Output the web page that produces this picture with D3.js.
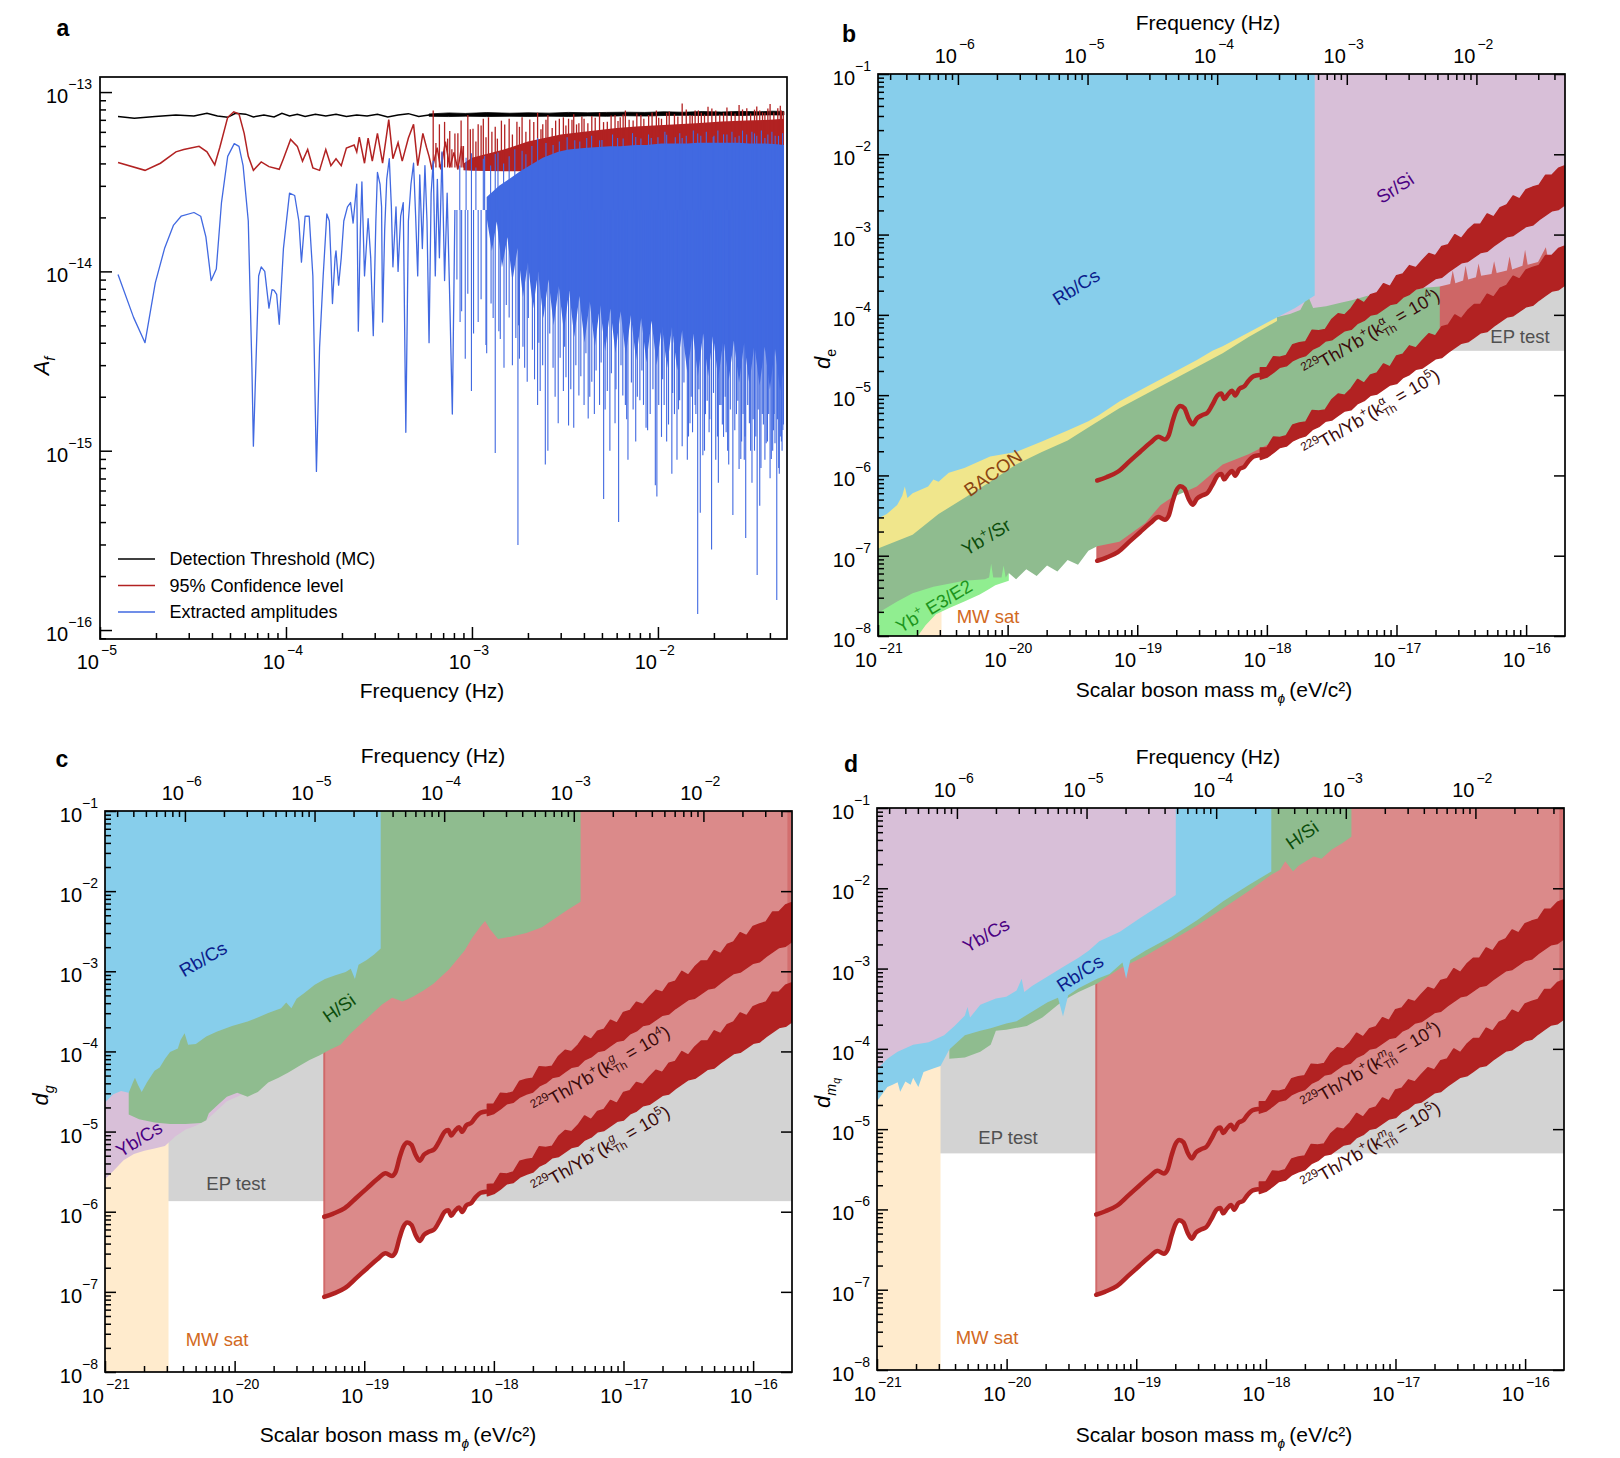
<!DOCTYPE html>
<html><head><meta charset="utf-8">
<script src="https://cdn.jsdelivr.net/npm/d3@7/dist/d3.min.js"></script>
<style>html,body{margin:0;padding:0;background:#fff}svg text{font-family:"Liberation Sans",Arial,Helvetica,sans-serif}</style>
</head><body>
<svg id="fig" width="1620" height="1458" xmlns="http://www.w3.org/2000/svg"></svg>
<script>
// ======================= DATA =======================
const MHZ = 1e-3;          // panel a frequencies are given in mHz
const AMP = 1e-14;         // panel a amplitudes are given in units of 1e-14
const EV_TO_HZ = 1 / 4.135667e-15;

// ---- panel a : detection threshold (MC) ----
const thrF = [0.0125,0.0153,0.0198,0.0256,0.0320,0.0376,0.0428,0.0486,0.0535,0.0607,0.0668,0.0761,0.0863,0.0951,0.1045,0.1151,0.1267,0.1439,0.1637,0.1858,0.2113,0.2402,0.2729,0.3103,0.3526,0.4006,0.4552,0.5174,0.5880];
const thrA = [7.31,7.14,7.31,7.45,7.36,7.62,7.36,7.23,7.62,7.53,7.27,7.45,7.27,7.62,7.36,7.53,7.31,7.53,7.36,7.53,7.31,7.45,7.36,7.53,7.27,7.45,7.58,7.31,7.45];
const thrBandF  = [0.588,0.75,0.92,1.2,1.6,2.0,2.6,3.3,4.2,5.3,6.7,8.5,10.8,13.6,17.3,21.9,27.7,35.2,41.0,47.6];
const thrBandHi = [7.55,7.65,7.60,7.68,7.62,7.66,7.63,7.70,7.66,7.70,7.72,7.70,7.76,7.72,7.78,7.74,7.80,7.76,7.82,7.80];
const thrBandLo = [7.33,7.30,7.34,7.30,7.33,7.31,7.34,7.31,7.36,7.33,7.38,7.35,7.40,7.42,7.40,7.43,7.40,7.44,7.46,7.44];

// ---- panel a : 95% confidence level ----
const cfF = [0.0125,0.01746,0.02113,0.0256,0.0282,0.0341,0.0376,0.0414,0.0441,0.0486,0.0524,0.0559,0.0596,0.0627,0.0668,0.0736,0.0810,0.0920,0.0969,0.1059,0.1151,0.1227,0.1308,0.1395,0.1516,0.1637,0.1744,0.1858,0.1982,0.2113,0.2326,0.2402,0.2479,0.2644,0.2765,0.2911,0.3103,0.3307,0.3570,0.3758,0.4006,0.4217,0.4552,0.4853,0.5109,0.5446,0.5694,0.5880,0.61,0.65,0.68,0.72,0.76,0.80,0.84,0.88,0.90];
const cfA = [4.05,3.66,4.01,4.64,4.78,4.98,4.64,3.93,4.92,7.23,7.76,7.53,5.88,4.38,3.66,4.08,3.84,3.71,4.25,5.44,4.98,4.12,4.78,3.78,3.66,4.78,3.89,4.25,3.89,4.87,5.07,4.64,5.61,4.01,5.54,4.12,5.88,4.01,7.02,4.25,5.22,4.12,5.54,6.61,3.89,5.88,4.92,4.38,3.7,4.9,3.7,5.3,3.8,4.6,3.7,5.0,3.8];
const cfBandF  = [0.9,1.0,1.5,2.0,3.0,4.0,6.0,8.0,12.0,16.0,22.0,30.0,40.0,47.6];
const cfBandHi = [4.0,4.3,4.8,5.3,5.8,6.0,6.3,6.45,6.6,6.7,6.85,6.93,7.0,7.1];
const cfBandLo = [3.66,3.64,3.62,3.62,3.60,3.60,3.58,3.58,3.60,3.62,3.62,3.64,3.66,3.66];
const cfSpikeF = [0.6189,0.6683,0.7125,0.7596,0.8098,0.8743,0.9501,1.013,1.080,1.151,1.227,1.334,1.440,1.585,1.745,1.860,2.046,2.254,2.403,2.560,2.818,3.102,3.307,3.526,3.758,4.007,4.410,4.853,5.343,5.880,6.269,6.683,7.356,8.098,8.913,9.807,10.45,11.14,12.27,13.50,14.87,15.85,17.11,18.59,20.46,22.53,24.80,27.31,30.05,33.06,35.27,37.60,40.09,44.10,46.12];
const cfSpikeA = [7.89,6.61,6.82,6.06,5.88,6.93,7.45,6.24,6.61,7.10,7.23,6.40,6.93,7.10,6.82,7.23,7.02,7.67,6.61,7.45,6.93,7.23,7.10,7.53,6.69,7.10,7.36,7.67,6.82,7.45,7.23,7.89,6.93,7.45,7.45,7.89,7.10,7.67,7.53,8.63,7.45,7.89,7.67,8.28,7.89,7.67,7.80,8.47,8.13,7.98,7.89,7.67,8.58,8.13,7.89];
const cfSpike2F = [0.64,0.69,0.74,0.78,0.84,0.90,0.98,1.05,1.12,1.19,1.28,1.37,1.50,1.65,1.80,1.95,2.15,2.35,2.50,2.70,2.95,3.20,3.45,3.65,3.90,4.20,4.60,5.10,5.60,6.10,6.50,7.00,7.70,8.40,9.30,10.1,11.5,12.8,14.2,15.3,16.5,17.8,19.5,21.5,23.5,26.0,28.5,31.5,34.0,36.5,39.0,42.0,45.5,47.2];
const cfSpike2A = [5.2,4.6,5.5,4.8,5.9,5.0,6.2,5.3,6.5,5.6,6.0,5.5,6.6,5.8,6.4,6.0,6.8,6.2,7.0,6.3,7.1,6.5,7.0,6.6,7.3,6.7,7.2,6.8,7.4,6.9,7.5,7.0,7.6,7.1,7.7,7.2,7.8,7.3,8.0,7.4,7.9,7.5,8.1,7.5,8.2,7.6,8.0,7.6,8.3,7.7,8.1,7.7,8.4,7.8];

// ---- panel a : extracted amplitudes ----
const exF = [0.0125,0.01515,0.01746,0.01983,0.02223,0.0248,0.0273,0.0320,0.0348,0.0371,0.0396,0.0422,0.0450,0.0486,0.0527,0.0559,0.0588,0.0627,0.0656,0.0668,0.0713,0.0736,0.0769,0.0810,0.0841,0.0863,0.0891,0.0920,0.0969,0.1045,0.1114,0.1173,0.1211,0.1267,0.1333,0.1395,0.1458,0.1516,0.1585,0.1658,0.1711,0.1744,0.1778,0.1836,0.1858,0.1919,0.1982,0.2046,0.2141,0.2225,0.2296,0.2402,0.2449,0.2512,0.2560,0.2644,0.2765,0.2855,0.2947,0.3043,0.3103,0.3204,0.3266,0.3307,0.3394,0.3481,0.3594,0.3687,0.3758,0.3905,0.4006,0.4137,0.4271,0.4410,0.4552,0.4701,0.4853,0.4980,0.5109,0.5240,0.5411,0.5587,0.5731,0.5880,0.6033,0.6189,0.6351,0.6515,0.6683,0.6902,0.7125,0.7356,0.7596,0.7843,0.8098];
const exA = [0.960,0.554,0.4005,0.863,1.34,1.805,2.03,2.13,2.03,1.557,0.889,1.03,2.42,4.38,5.16,4.98,3.89,1.91,0.290,0.106,0.943,1.06,1.0,0.624,0.790,0.784,0.744,0.507,1.34,2.73,2.65,1.91,1.125,2.03,2.03,0.943,0.0767,0.378,0.943,2.09,1.91,1.19,0.662,1.19,1.30,0.838,1.19,1.91,2.29,2.42,1.86,3.07,0.464,1.70,3.16,0.943,1.97,1.19,0.438,1.91,3.56,3.07,2.29,0.522,1.70,3.26,4.25,2.29,1.06,2.29,1.0,2.03,2.42,0.1267,1.91,3.07,4.01,2.03,0.943,3.45,1.34,3.89,1.91,0.4005,2.73,4.12,0.943,3.26,1.19,4.64,0.889,2.73,0.702,0.160,2.20];
const exBandF  = [1.20,1.40,1.60,1.80,2.046,2.403,2.909,3.307,4.007,4.552,5.516,6.269,7.596,8.633,10.45,11.88,14.39,16.36,19.43,22.53,27.31,31.03,37.60,42.17,47.64];
const exBandHi = [2.6,3.0,3.3,3.6,3.9,4.3,4.64,4.78,4.87,4.92,4.98,4.98,5.07,5.07,5.16,5.16,5.16,5.22,5.22,5.22,5.22,5.16,5.16,5.13,5.07];
const exBandLoF = [1.20,1.28,1.36,1.45,1.55,1.65,1.76,1.88,2.00,2.13,2.27,2.42,2.58,2.75,2.93,3.12,3.33,3.55,3.78,4.03,4.30,4.58,4.88,5.20,5.55,5.91,6.30,6.72,7.16,7.63,8.13,8.67,9.24,9.85,10.5,11.2,11.9,12.7,13.5,14.4,15.4,16.4,17.5,18.6,19.8,21.1,22.5,24.0,25.6,27.3,29.1,31.0,33.0,35.2,37.5,40.0,42.6,45.4,47.64];
const exBandLoA = [2.0,1.30,1.9,1.05,1.55,0.88,1.35,0.72,1.12,0.62,1.0,0.55,0.90,0.50,0.83,0.46,0.78,0.43,0.73,0.40,0.68,0.38,0.65,0.36,0.62,0.35,0.60,0.34,0.57,0.32,0.55,0.31,0.53,0.30,0.50,0.29,0.49,0.28,0.47,0.27,0.46,0.26,0.45,0.26,0.44,0.25,0.42,0.245,0.41,0.24,0.40,0.235,0.39,0.23,0.38,0.22,0.37,0.215,0.30];
const exDownF = [0.8633,0.9204,0.9936,1.080,1.189,1.267,1.334,1.395,1.487,1.585,1.722,1.767,1.801,1.920,1.982,2.113,2.254,2.327,2.480,2.560,2.730,2.909,3.102,3.203,3.307,3.526,3.758,4.007,4.217,4.410,4.552,4.853,5.106,5.343,5.516,5.880,6.146,6.473,6.683,6.900,7.356,7.596,7.996,8.362,8.633,9.085,9.682,9.87,10.45,10.80,11.14,11.88,12.27,12.66,13.08,13.50,14.39,14.87,15.35,15.85,16.36,16.89,17.44,18.01,18.84,19.43,20.46,21.13,21.83,22.53,23.27,24.02,25.29,26.44,27.31,28.18,29.12,29.65,31.03,32.04,33.06,34.16,35.27,36.40,37.60,38.81,40.09,41.40,42.17,43.55,44.94,46.12,46.99];
const exDownA = [0.522,0.326,0.215,0.522,0.389,0.662,0.0971,0.464,0.290,0.554,0.425,0.0298,0.326,0.290,0.2425,0.366,0.180,0.215,0.0838,0.100,0.290,0.1425,0.215,0.257,0.1384,0.1343,0.203,0.180,0.1512,0.2425,0.160,0.180,0.0538,0.215,0.100,0.1425,0.0401,0.203,0.180,0.0889,0.170,0.1125,0.191,0.180,0.1343,0.160,0.0642,0.0555,0.1194,0.180,0.1125,0.0745,0.160,0.0889,0.191,0.106,0.0889,0.1425,0.1267,0.180,0.0123,0.0451,0.0943,0.160,0.1267,0.0281,0.0889,0.0662,0.180,0.1194,0.1267,0.0838,0.0438,0.160,0.079,0.1125,0.0889,0.0326,0.1425,0.0662,0.100,0.0203,0.0493,0.160,0.0889,0.1125,0.0702,0.100,0.160,0.0147,0.0745,0.1125,0.1304];
const exDown2F = [0.83,0.88,0.95,1.02,1.12,1.20,1.30,1.42,1.53,1.65,1.78,1.88,2.01,2.17,2.29,2.40,2.62,2.80,2.98,3.15,3.40,3.62,3.85,4.10,4.30,4.65,4.95,5.20,5.62,5.95,6.33,6.79,7.20,7.75,8.20,8.80,9.40,10.1,10.6,11.4,12.0,12.9,13.8,14.6,15.1,16.0,16.6,17.8,18.4,19.0,19.9,20.9,21.5,22.2,23.0,23.7,24.5,25.9,26.9,27.9,28.7,29.4,30.4,31.5,32.5,33.6,34.6,35.8,36.9,38.2,39.4,40.7,41.8,42.6,43.9,44.6,45.5,46.5,47.3];
const exDown2A = [0.9,0.6,0.75,0.45,0.7,0.35,0.55,0.42,0.65,0.3,0.5,0.38,0.55,0.25,0.4,0.3,0.45,0.2,0.33,0.38,0.22,0.3,0.26,0.35,0.2,0.28,0.31,0.17,0.27,0.22,0.3,0.15,0.24,0.2,0.28,0.13,0.22,0.18,0.25,0.14,0.21,0.17,0.24,0.12,0.2,0.16,0.22,0.1,0.19,0.15,0.21,0.12,0.18,0.14,0.2,0.1,0.17,0.13,0.19,0.09,0.16,0.12,0.18,0.1,0.15,0.12,0.17,0.08,0.14,0.11,0.16,0.09,0.13,0.11,0.15,0.08,0.12,0.1,0.14];
const exUpF = [0.9936,1.151,1.334,1.585,1.860,2.254,2.730,3.572,4.14,4.853,6.07,7.596,9.204,11.14,13.50,16.36,19.83,22.53,27.31,33.06,37.60,42.71,0.86,0.93,1.05,1.17,1.26,1.38,1.48,1.70,1.95,2.10,2.50,2.95,3.25,3.80,4.40,5.00,5.70,6.50,7.30,8.10,8.90,10.0,10.9,12.4,13.1,14.2,15.5,17.0,18.2,20.0,21.0,23.5,25.0,26.0,28.5,30.0,32.0,34.0,36.0,39.0,41.0,44.5,46.8];
const exUpA = [4.56,4.25,4.52,4.38,4.70,5.54,5.07,5.38,5.54,5.38,5.54,5.61,5.54,5.78,5.54,5.88,5.61,5.81,5.71,5.88,5.54,5.71,3.9,4.3,3.8,4.4,3.9,4.6,4.0,4.8,4.5,5.0,5.2,5.3,5.6,5.3,5.7,5.4,5.8,5.5,5.9,5.5,5.8,5.6,6.0,5.6,5.9,5.7,6.1,5.7,6.0,5.7,6.1,5.8,6.0,5.6,6.1,5.8,6.0,5.7,6.1,5.8,6.0,5.7,5.9];

// ---- panels b-d : 229Th/Yb+ projected sensitivity, [log10 m (eV), log10 d] ----
const thSmooth4 = [[-19.309,-6.063],[-19.238,-6.023],[-19.150,-5.954],[-19.058,-5.822],[-18.979,-5.708],[-18.899,-5.593],[-18.835,-5.519],[-18.787,-5.553],[-18.759,-5.507],[-18.727,-5.324],[-18.699,-5.192],[-18.667,-5.135],[-18.636,-5.164],[-18.604,-5.290],[-18.572,-5.364],[-18.540,-5.290],[-18.500,-5.250],[-18.460,-5.221],[-18.420,-5.118],[-18.380,-5.003],[-18.352,-4.981],[-18.329,-5.049],[-18.301,-4.992],[-18.269,-4.946],[-18.245,-5.003],[-18.213,-4.923],[-18.173,-4.889],[-18.141,-4.820],[-18.101,-4.763],[-18.061,-4.750]];
const thSmooth5 = [[-19.309,-7.063],[-19.238,-7.023],[-19.150,-6.954],[-19.058,-6.822],[-18.979,-6.708],[-18.899,-6.593],[-18.835,-6.519],[-18.787,-6.553],[-18.759,-6.507],[-18.727,-6.324],[-18.699,-6.192],[-18.667,-6.135],[-18.636,-6.164],[-18.604,-6.290],[-18.572,-6.364],[-18.540,-6.290],[-18.500,-6.250],[-18.460,-6.221],[-18.420,-6.118],[-18.380,-6.003],[-18.352,-5.981],[-18.329,-6.049],[-18.301,-5.992],[-18.269,-5.946],[-18.245,-6.003],[-18.213,-5.923],[-18.173,-5.889],[-18.141,-5.820],[-18.101,-5.763],[-18.061,-5.750]];
const thBandM = [-18.05,-18.00,-17.95,-17.90,-17.85,-17.80,-17.75,-17.70,-17.65,-17.60,-17.55,-17.50,-17.45,-17.40,-17.35,-17.30,-17.25,-17.20,-17.15,-17.10,-17.05,-17.00,-16.95,-16.90,-16.85,-16.80,-16.75,-16.70,-16.65,-16.60,-16.55,-16.50,-16.45,-16.40,-16.35,-16.30,-16.25,-16.20,-16.15,-16.10,-16.05,-16.00,-15.95,-15.90,-15.85,-15.80,-15.75,-15.705];
const thBand4Hi = [-4.660,-4.656,-4.523,-4.529,-4.506,-4.372,-4.348,-4.335,-4.191,-4.198,-4.184,-4.060,-3.987,-4.003,-3.920,-3.806,-3.852,-3.749,-3.725,-3.612,-3.648,-3.514,-3.491,-3.387,-3.414,-3.320,-3.236,-3.263,-3.149,-3.126,-3.002,-3.048,-2.945,-2.871,-2.868,-2.744,-2.780,-2.667,-2.633,-2.520,-2.556,-2.442,-2.409,-2.385,-2.262,-2.258,-2.174,-2.146];
const thBand4Lo = [-4.800,-4.774,-4.717,-4.651,-4.634,-4.568,-4.532,-4.505,-4.429,-4.392,-4.326,-4.310,-4.253,-4.197,-4.180,-4.104,-4.068,-4.001,-3.985,-3.928,-3.872,-3.856,-3.779,-3.743,-3.676,-3.660,-3.604,-3.547,-3.531,-3.464,-3.408,-3.352,-3.335,-3.279,-3.222,-3.206,-3.140,-3.083,-3.027,-3.010,-2.954,-2.898,-2.881,-2.815,-2.758,-2.702,-2.686,-2.634];
const thBand5Hi = [-5.660,-5.656,-5.523,-5.529,-5.506,-5.372,-5.348,-5.335,-5.191,-5.198,-5.184,-5.060,-4.987,-5.003,-4.920,-4.806,-4.852,-4.749,-4.725,-4.612,-4.648,-4.514,-4.491,-4.387,-4.414,-4.320,-4.236,-4.263,-4.149,-4.126,-4.002,-4.048,-3.945,-3.871,-3.868,-3.744,-3.780,-3.667,-3.633,-3.520,-3.556,-3.442,-3.409,-3.385,-3.262,-3.258,-3.174,-3.146];
const thBand5Lo = [-5.800,-5.774,-5.717,-5.651,-5.634,-5.568,-5.532,-5.505,-5.429,-5.392,-5.326,-5.310,-5.253,-5.197,-5.180,-5.104,-5.068,-5.001,-4.985,-4.928,-4.872,-4.856,-4.779,-4.743,-4.676,-4.660,-4.604,-4.547,-4.531,-4.464,-4.408,-4.352,-4.335,-4.279,-4.222,-4.206,-4.140,-4.083,-4.027,-4.010,-3.954,-3.898,-3.881,-3.815,-3.758,-3.702,-3.686,-3.634];
const thEdge = -19.309;       // low-mass end of the Th/Yb+ curves (log10 eV)
const mwEdge = -20.51;        // MW satellites bound (log10 eV)

// ---- panel b (d_e) exclusion limits ----
const epB = -4.448;
const bRbCs = [[-21.0,-6.538],[-20.932,-6.481],[-20.852,-6.367],[-20.813,-6.252],[-20.793,-6.137],[-20.773,-6.281],[-20.733,-6.223],[-20.613,-6.137],[-20.573,-6.052],[-20.533,-6.080],[-20.454,-5.966],[-20.334,-5.908],[-20.135,-5.765],[-19.935,-5.708],[-19.736,-5.576],[-19.537,-5.439],[-19.377,-5.324],[-19.297,-5.250],[-19.138,-5.078],[-18.939,-4.906],[-18.739,-4.734],[-18.540,-4.562],[-18.420,-4.448],[-18.341,-4.391],[-18.141,-4.219],[-17.942,-4.047],[-17.782,-3.915],[-17.631,-3.760]];
const bBacon = [[-21.0,-6.911],[-20.733,-6.739],[-20.533,-6.481],[-20.334,-6.281],[-20.135,-6.080],[-19.935,-5.863],[-19.736,-5.708],[-19.537,-5.565],[-19.338,-5.364],[-19.138,-5.164],[-18.939,-4.992],[-18.739,-4.820],[-18.540,-4.648],[-18.341,-4.477],[-18.141,-4.276],[-17.922,-4.076]];
const bYbSr = [[-21.0,-7.712],[-20.852,-7.569],[-20.733,-7.466],[-20.573,-7.386],[-20.334,-7.312],[-20.175,-7.294],[-20.143,-7.271],[-20.127,-7.100],[-20.111,-7.271],[-20.047,-7.271],[-20.031,-7.123],[-20.015,-7.271],[-19.991,-7.214],[-19.935,-7.294],[-19.856,-7.168],[-19.776,-7.254],[-19.696,-7.122],[-19.616,-7.197],[-19.537,-7.054],[-19.457,-7.111],[-19.377,-6.939],[-19.309,-6.882],[-19.138,-6.825],[-18.939,-6.596],[-18.819,-6.367],[-18.739,-6.281],[-18.540,-6.137],[-18.341,-5.863],[-18.141,-5.737],[-17.942,-5.576],[-17.742,-5.422],[-17.543,-5.250],[-17.344,-5.107],[-17.144,-4.906],[-16.945,-4.706],[-16.746,-4.505],[-16.666,-4.419]];
const bYbE3E2 = [[-21.0,-8.0],[-20.693,-8.0],[-20.633,-7.867],[-20.553,-7.730],[-20.454,-7.655],[-20.334,-7.569],[-20.215,-7.483],[-20.155,-7.426],[-20.095,-7.369],[-19.991,-7.312]];
const bSrSi = [[-18.181,-4.202],[-18.061,-4.104],[-17.942,-4.036],[-17.822,-3.990],[-17.742,-3.938],[-17.683,-3.761],[-17.643,-3.915],[-17.543,-3.892],[-17.423,-3.847],[-17.344,-3.818],[-17.224,-3.761],[-17.144,-3.778],[-17.025,-3.732],[-16.905,-3.709],[-16.785,-3.663],[-16.666,-3.646],[-16.586,-3.617],[-16.566,-3.446],[-16.546,-3.606],[-16.486,-3.572],[-16.467,-3.388],[-16.447,-3.560],[-16.387,-3.532],[-16.367,-3.360],[-16.347,-3.514],[-16.267,-3.491],[-16.247,-3.331],[-16.227,-3.480],[-16.148,-3.446],[-16.128,-3.274],[-16.108,-3.434],[-16.028,-3.388],[-16.008,-3.188],[-15.988,-3.377],[-15.908,-3.343],[-15.848,-3.159],[-15.828,-3.320],[-15.749,-3.285],[-15.705,-3.274]];

// ---- panel c (d_g) exclusion limits ----
const epC = -5.868;
const cYbCs = [[-21.0,-5.592],[-20.936,-5.492],[-20.857,-5.357],[-20.777,-5.281],[-20.697,-5.240],[-20.618,-5.210],[-20.538,-5.181],[-20.458,-5.063],[-20.378,-4.975],[-20.299,-4.928],[-20.219,-4.858],[-20.139,-4.740],[-20.060,-4.623],[-19.980,-4.564],[-19.940,-4.535]];
const cHSi = [[-20.817,-4.787],[-20.737,-4.846],[-20.618,-4.887],[-20.498,-4.905],[-20.378,-4.905],[-20.259,-4.893],[-20.219,-4.858],[-20.199,-4.770],[-20.139,-4.682],[-20.060,-4.564],[-19.980,-4.517],[-19.900,-4.564],[-19.821,-4.506],[-19.741,-4.388],[-19.661,-4.329],[-19.582,-4.259],[-19.502,-4.183],[-19.422,-4.106],[-19.343,-4.048],[-19.263,-3.977],[-19.183,-3.918],[-19.104,-3.772],[-19.024,-3.654],[-18.944,-3.537],[-18.865,-3.419],[-18.785,-3.331],[-18.705,-3.378],[-18.625,-3.319],[-18.546,-3.243],[-18.466,-3.155],[-18.347,-2.979],[-18.227,-2.744],[-18.167,-2.580],[-18.108,-2.450],[-18.068,-2.374],[-18.028,-2.480],[-17.968,-2.597],[-17.869,-2.568],[-17.749,-2.521],[-17.629,-2.450],[-17.510,-2.321],[-17.430,-2.233],[-17.331,-2.133]];
const cRbCs = [[-21.0,-4.635],[-20.936,-4.535],[-20.876,-4.494],[-20.817,-4.517],[-20.785,-4.388],[-20.769,-4.329],[-20.745,-4.418],[-20.717,-4.506],[-20.677,-4.388],[-20.618,-4.241],[-20.578,-4.200],[-20.538,-4.095],[-20.498,-4.006],[-20.438,-3.965],[-20.418,-3.860],[-20.386,-3.772],[-20.359,-3.918],[-20.299,-3.907],[-20.219,-3.813],[-20.139,-3.754],[-20.020,-3.683],[-19.900,-3.625],[-19.821,-3.578],[-19.741,-3.519],[-19.641,-3.460],[-19.602,-3.390],[-19.562,-3.460],[-19.522,-3.343],[-19.462,-3.272],[-19.382,-3.167],[-19.303,-3.096],[-19.223,-3.049],[-19.143,-3.008],[-19.104,-2.967],[-19.072,-3.096],[-19.044,-2.920],[-18.984,-2.861],[-18.924,-2.791],[-18.873,-2.715]];

// ---- panel d (d_mq) exclusion limits ----
const epD = -5.302;
const dYbCs = [[-21.0,-4.253],[-20.920,-4.124],[-20.841,-4.036],[-20.721,-3.948],[-20.601,-3.919],[-20.482,-3.831],[-20.402,-3.714],[-20.322,-3.585],[-20.302,-3.479],[-20.282,-3.608],[-20.203,-3.450],[-20.083,-3.374],[-20.003,-3.351],[-19.923,-3.274],[-19.884,-3.128],[-19.864,-3.292],[-19.804,-3.216],[-19.684,-3.098],[-19.565,-2.981],[-19.445,-2.864],[-19.365,-2.776],[-19.285,-2.659],[-19.126,-2.542],[-18.967,-2.366],[-18.807,-2.202],[-18.695,-2.084]];
const dRbCs = [[-21.0,-4.652],[-20.920,-4.476],[-20.880,-4.447],[-20.841,-4.417],[-20.821,-4.535],[-20.781,-4.406],[-20.741,-4.447],[-20.721,-4.359],[-20.681,-4.476],[-20.641,-4.288],[-20.561,-4.241],[-20.510,-4.212],[-20.442,-4.007],[-20.322,-3.831],[-20.203,-3.773],[-20.123,-3.743],[-20.003,-3.685],[-19.923,-3.655],[-19.804,-3.538],[-19.684,-3.421],[-19.604,-3.362],[-19.565,-3.597],[-19.525,-3.333],[-19.445,-3.245],[-19.301,-3.128],[-19.206,-3.069],[-19.106,-2.923],[-19.078,-3.128],[-19.046,-2.893],[-18.927,-2.776],[-18.727,-2.600],[-18.528,-2.395],[-18.329,-2.161],[-18.129,-1.955],[-17.958,-1.791]];
const dHSi = [[-20.442,-4.124],[-20.322,-4.107],[-20.203,-4.036],[-20.123,-3.948],[-20.083,-3.773],[-20.003,-3.761],[-19.844,-3.714],[-19.724,-3.608],[-19.604,-3.450],[-19.525,-3.362],[-19.445,-3.292],[-19.301,-3.186],[-19.126,-2.999],[-18.927,-2.840],[-18.727,-2.650],[-18.528,-2.460],[-18.329,-2.250],[-18.129,-2.030],[-17.958,-1.830],[-17.890,-1.768],[-17.850,-1.662],[-17.790,-1.791],[-17.750,-1.721],[-17.691,-1.662],[-17.631,-1.604],[-17.571,-1.633],[-17.491,-1.516],[-17.411,-1.440],[-17.340,-1.358]];

// ======================= DRAWING =======================
const C = {blue:'#87CEEB', thistle:'#D8BFD8', green:'#8FBC8F', khaki:'#F0E68C', lgreen:'#90EE90',
  mw:'#FFEBCD', ep:'#D3D3D3', lredB:'rgba(205,92,92,0.92)', lredOpaque:'#DB8A8A', th:'#B22222'};
const svg = d3.select('#fig');
const defs = svg.append('defs');

function clipGroup(id,L,R,T,B){
  defs.append('clipPath').attr('id','clip-'+id).append('rect').attr('x',L).attr('y',T).attr('width',R-L).attr('height',B-T);
  return svg.append('g').attr('clip-path',`url(#clip-${id})`);
}
function logTicks(d0,d1){
  const maj=[],min=[];
  const e0=Math.floor(Math.log10(d0))-1,e1=Math.ceil(Math.log10(d1))+1;
  for(let e=e0;e<=e1;e++)for(let k=1;k<10;k++){const v=k*Math.pow(10,e);if(v<d0*0.9999||v>d1*1.0001)continue;(k===1?maj:min).push(v);}
  return {maj,min};
}
function ticks(axisGen,vals,len,tx,ty){
  const g=svg.append('g').attr('transform',`translate(${tx},${ty})`)
    .call(axisGen.tickValues(vals).tickSize(-len).tickPadding(0).tickFormat(''));
  g.select('.domain').remove();
  g.selectAll('.tick text').remove();
  g.selectAll('.tick line').attr('stroke','#000').attr('stroke-width',1.5);
}
function frame(L,R,T,B){
  svg.append('rect').attr('x',L).attr('y',T).attr('width',R-L).attr('height',B-T).attr('fill','none').attr('stroke','#000').attr('stroke-width',1.7);
}
const MINUS='\u2212';
function hLabel(xp,yb,v){
  const e=Math.round(Math.log10(v));
  svg.append('text').attr('x',xp-1).attr('y',yb).attr('text-anchor','end').attr('font-size',20).text('10');
  svg.append('text').attr('x',xp+1).attr('y',yb-14).attr('font-size',14).text(MINUS+Math.abs(e));
}
function vLabel(xr,yt,v){
  const e=Math.round(Math.log10(v));
  const t=svg.append('text').attr('x',xr).attr('y',yt+11).attr('text-anchor','end').attr('font-size',20);
  t.append('tspan').text('10');
  t.append('tspan').attr('dy',-14).attr('font-size',14).text(MINUS+Math.abs(e));
}
function rich(parent,parts,size){
  const t=parent.append('text').attr('font-size',size);
  let cur=0;
  parts.forEach(p=>{
    if(typeof p==='string') p={t:p};
    const lvl = p.k==='sup'? -0.42*size : p.k==='sub'? 0.28*size : p.k==='sub2'? 0.45*size : p.k==='supsub'? -0.25*size : 0;
    const fs = p.k==='supsub'? size*0.45 : p.k==='sub2'? size*0.48 : (p.k? size*0.65 : size);
    const ts=t.append('tspan').attr('dy',(lvl-cur).toFixed(2)).attr('font-size',fs).text(p.t);
    if(p.dx) ts.attr('dx',p.dx);
    if(p.it) ts.attr('font-style','italic');
    cur=lvl;
  });
  return t;
}
function label(cx,cy,rot,parts,color,size){
  const g=svg.append('g').attr('transform',`translate(${cx},${cy}) rotate(${rot})`);
  rich(g,parts,size||18.5).attr('text-anchor','middle').attr('y',(size||18.5)*0.35).attr('fill',color);
}

// ---------------- panel a ----------------
(function(){
  const L=100,R=787,T=77,B=639;
  const x=d3.scaleLog().domain([1e-5,Math.pow(10,-1.306)]).range([L,R]);
  const y=d3.scaleLog().domain([Math.pow(10,-16.05),Math.pow(10,-12.916)]).range([B,T]);
  const g=clipGroup('a',L,R,T,B);
  const X=f=>x(f*MHZ), Y=a=>y(a*AMP);
  const line=d3.line().x(d=>X(d[0])).y(d=>Y(d[1]));
  const band=d3.area().x(d=>X(d[0])).y0(d=>Y(d[2])).y1(d=>Y(d[1]));
  const spikes=(F,A,base,col,w)=>g.append('g').selectAll('line').data(d3.zip(F,A)).join('line')
    .attr('x1',d=>X(d[0])).attr('x2',d=>X(d[0])).attr('y1',Y(base)).attr('y2',d=>Y(d[1]))
    .attr('stroke',col).attr('stroke-width',w);
  // detection threshold
  g.append('path').datum(d3.zip(thrF,thrA)).attr('d',line).attr('fill','none').attr('stroke','#000').attr('stroke-width',1.5);
  g.append('path').datum(d3.zip(thrBandF,thrBandHi,thrBandLo)).attr('d',band).attr('fill','#000').attr('stroke','#000').attr('stroke-width',0.8);
  // 95% CL
  g.append('path').datum(d3.zip(cfF,cfA)).attr('d',line).attr('fill','none').attr('stroke','#B22222').attr('stroke-width',1.5);
  g.append('path').datum(d3.zip(cfBandF,cfBandHi,cfBandLo)).attr('d',band).attr('fill','#B22222');
  spikes(cfSpikeF,cfSpikeA,3.8,'#B22222',1.3);
  spikes(cfSpike2F,cfSpike2A,3.8,'#B22222',1.3);
  // extracted amplitudes
  g.append('path').datum(d3.zip(exF,exA)).attr('d',line).attr('fill','none').attr('stroke','#4169E1').attr('stroke-width',1.3).attr('stroke-linejoin','round');
  const poly=d3.zip(exBandF,exBandHi).concat(d3.zip(exBandLoF,exBandLoA).reverse());
  g.append('path').datum(poly).attr('d',d=>line(d)+'Z').attr('fill','#4169E1');
  spikes(exDownF,exDownA,2.2,'#4169E1',1.1);
  spikes(exDown2F,exDown2A,2.2,'#4169E1',1.1);
  spikes(exUpF,exUpA,2.2,'#4169E1',1.1);
  // axes
  const xt=logTicks(x.domain()[0],x.domain()[1]), yt=logTicks(y.domain()[0],y.domain()[1]);
  ticks(d3.axisBottom(x),xt.maj,12,0,B); ticks(d3.axisBottom(x),xt.min,6,0,B);
  ticks(d3.axisLeft(y),yt.maj,12,L,0);   ticks(d3.axisLeft(y),yt.min,6,L,0);
  frame(L,R,T,B);
  xt.maj.forEach(v=>hLabel(x(v),B+30,v));
  yt.maj.forEach(v=>vLabel(L-8,y(v),v));
  // legend
  const leg=[['Detection Threshold (MC)','#000'],['95% Confidence level','#B22222'],['Extracted amplitudes','#4169E1']];
  leg.forEach((d,i)=>{
    const yy=559+i*26.5;
    svg.append('line').attr('x1',118).attr('x2',155).attr('y1',yy).attr('y2',yy).attr('stroke',d[1]).attr('stroke-width',1.5);
    svg.append('text').attr('x',169.5).attr('y',yy+6).attr('font-size',18).text(d[0]);
  });
  svg.append('text').attr('x',432).attr('y',698).attr('text-anchor','middle').attr('font-size',21).text('Frequency (Hz)');
  const yl=svg.append('g').attr('transform','translate(49,366) rotate(-90)');
  rich(yl,[{t:'A',it:1},{t:'f',k:'sub',it:1}],22).attr('text-anchor','middle');
  svg.append('text').attr('x',63).attr('y',36).attr('text-anchor','middle').attr('font-size',23).attr('font-weight','bold').text('a');
})();

// ---------------- helpers for mass panels ----------------
function massPanel(id,L,R,T,B){
  const x=d3.scaleLog().domain([1e-21,Math.pow(10,-15.70)]).range([L,R]);
  const y=d3.scaleLog().domain([1e-8,1e-1]).range([B,T]);
  const f=d3.scaleLog().domain([1e-21*EV_TO_HZ,Math.pow(10,-15.70)*EV_TO_HZ]).range([L,R]);
  const g=clipGroup(id,L,R,T,B);
  return {L,R,T,B,x,y,f,g,X:v=>x(Math.pow(10,v)),Y:v=>y(Math.pow(10,v))};
}
function fillAbove(P,pts,color){
  const area=d3.area().x(d=>P.X(d[0])).y0(d=>P.Y(d[1])).y1(P.T-2);
  P.g.append('path').datum(pts).attr('d',area).attr('fill',color);
}
function epRegion(P,lev){
  P.g.append('rect').attr('x',P.L).attr('y',P.T).attr('width',P.R-P.L).attr('height',P.Y(lev)-P.T).attr('fill',C.ep);
}
function mwRegion(P){
  P.g.append('rect').attr('x',P.L).attr('y',P.T).attr('width',P.X(mwEdge)-P.L).attr('height',P.B-P.T).attr('fill',C.mw);
}
function thRegion(P,color,rightEdge){
  const edge=thSmooth5.concat(d3.zip(thBandM,thBand5Lo));
  fillAbove(P,edge,color);
  P.g.append('line').attr('x1',P.X(thEdge)).attr('x2',P.X(thEdge)).attr('y1',P.Y(thSmooth5[0][1])).attr('y2',P.T)
    .attr('stroke','rgba(205,92,92,0.8)').attr('stroke-width',2);
  if(rightEdge){
    P.g.append('line').attr('x1',P.X(-15.722)).attr('x2',P.X(-15.722)).attr('y1',P.Y(thBand5Lo[thBand5Lo.length-1])).attr('y2',P.T)
      .attr('stroke','rgba(205,92,92,0.6)').attr('stroke-width',3.5);
  }
}
function thCurves(P){
  const ln=d3.line().x(d=>P.X(d[0])).y(d=>P.Y(d[1])).curve(d3.curveMonotoneX);
  const ar=d3.area().x(d=>P.X(d[0])).y0(d=>P.Y(d[2])).y1(d=>P.Y(d[1]));
  [[thSmooth4,thBand4Hi,thBand4Lo],[thSmooth5,thBand5Hi,thBand5Lo]].forEach(([s,hi,lo])=>{
    P.g.append('path').datum(s).attr('d',ln).attr('fill','none').attr('stroke',C.th).attr('stroke-width',4.5).attr('stroke-linecap','round').attr('stroke-linejoin','round');
    P.g.append('path').datum(d3.zip(thBandM,hi,lo)).attr('d',ar).attr('fill',C.th).attr('stroke',C.th).attr('stroke-width',1.6).attr('stroke-linejoin','round');
  });
}
function massAxes(P,o){
  const {L,R,T,B}=P;
  const xt=logTicks(P.x.domain()[0],P.x.domain()[1]);
  const yt=logTicks(1e-8,1e-1);
  const ft=logTicks(P.f.domain()[0],P.f.domain()[1]);
  ticks(d3.axisBottom(P.x),xt.maj,11,0,B); ticks(d3.axisBottom(P.x),xt.min,6,0,B);
  ticks(d3.axisTop(P.f),ft.maj,11,0,T);    ticks(d3.axisTop(P.f),ft.min,6,0,T);
  ticks(d3.axisLeft(P.y),yt.maj,11,L,0);   ticks(d3.axisLeft(P.y),yt.min,6,L,0);
  ticks(d3.axisRight(P.y),yt.maj,11,R,0);
  frame(L,R,T,B);
  xt.maj.forEach(v=>hLabel(P.x(v),B+31,v));
  ft.maj.forEach(v=>hLabel(P.f(v),T-11,v));
  yt.maj.forEach(v=>vLabel(L-7,P.y(v),v));
  svg.append('text').attr('x',o.topX).attr('y',o.topY).attr('text-anchor','middle').attr('font-size',21).text('Frequency (Hz)');
  const xl=svg.append('g').attr('transform',`translate(${o.botX},${o.botY})`);
  rich(xl,['Scalar boson mass m',{t:'\u03D5',k:'sub',it:1},'\u2009(eV/c\u00B2)'],21).attr('text-anchor','middle');
  const yl=svg.append('g').attr('transform',`translate(${o.ylX},${(T+B)/2+4}) rotate(-90)`);
  rich(yl,o.ylab,22).attr('text-anchor','middle');
  svg.append('text').attr('x',o.letter[1]).attr('y',o.letter[2]).attr('text-anchor','middle').attr('font-size',23).attr('font-weight','bold').text(o.letter[0]);
}
function thLabels(cx,cy1,cy2,sym,symdx){
  const mk=(exp)=>[{t:'229',k:'sup'},'Th/Yb',{t:'+',k:'sup'},'(k'].concat(sym).concat([{t:'Th',k:'sub',dx:symdx},' = 10',{t:exp,k:'sup'},')']);
  label(cx,cy1,-30.5,mk('4'),'#3A0A0A',18);
  label(cx,cy2,-30.5,mk('5'),'#3A0A0A',18);
}

// ---------------- panel b ----------------
(function(){
  const P=massPanel('b',878,1565,74,636);
  epRegion(P,epB);
  mwRegion(P);
  thRegion(P,C.lredB,false);
  fillAbove(P,bYbE3E2,C.lgreen);
  fillAbove(P,bYbSr,C.green);
  fillAbove(P,bBacon,C.khaki);
  fillAbove(P,bSrSi,C.thistle);
  fillAbove(P,bRbCs,C.blue);
  thCurves(P);
  massAxes(P,{topX:1208,topY:30,botX:1214,botY:697,ylX:830,ylab:[{t:'d',it:1},{t:'e',k:'sub'}],letter:['b',849,42]});
  label(1076,287,-32,['Rb/Cs'],'#0A1C8C');
  label(1395,188,-33,['Sr/Si'],'#4B0082');
  label(993,473,-35,['BACON'],'#8B4513');
  label(986,537,-31,['Yb',{t:'+',k:'sup'},'/Sr'],'#0B4D0B');
  label(934,606,-31,['Yb',{t:'+',k:'sup'},' E3/E2'],'#1E961E');
  label(988,617,0,['MW sat'],'#D2691E');
  label(1520,337,0,['EP test'],'#505050');
  thLabels(1371,333,413,[{t:'\u03B1',k:'sup'}],-7.5);
})();

// ---------------- panel c ----------------
(function(){
  const P=massPanel('c',105,792,811,1372);
  epRegion(P,epC);
  mwRegion(P);
  fillAbove(P,cYbCs,C.thistle);
  thRegion(P,C.lredOpaque,true);
  fillAbove(P,cHSi,C.green);
  fillAbove(P,cRbCs,C.blue);
  thCurves(P);
  massAxes(P,{topX:433,topY:763,botX:398,botY:1442,ylX:48,ylab:[{t:'d',it:1},{t:'g',k:'sub',it:1}],letter:['c',62,767]});
  label(203,959,-30,['Rb/Cs'],'#0A1C8C');
  label(339,1008,-35,['H/Si'],'#0B4D0B');
  label(139,1139,-32,['Yb/Cs'],'#4B0082');
  label(236,1184,0,['EP test'],'#505050');
  label(217,1340,0,['MW sat'],'#D2691E');
  thLabels(601,1070,1150,[{t:'g',k:'sup',it:1}],-6.5);
})();

// ---------------- panel d ----------------
(function(){
  const P=massPanel('d',877,1564,808,1370);
  epRegion(P,epD);
  mwRegion(P);
  thRegion(P,C.lredOpaque,true);
  fillAbove(P,dHSi,C.green);
  fillAbove(P,dRbCs,C.blue);
  fillAbove(P,dYbCs,C.thistle);
  thCurves(P);
  massAxes(P,{topX:1208,topY:764,botX:1214,botY:1442,ylX:830,ylab:[{t:'d',it:1},{t:'m',k:'sub',it:1},{t:'q',k:'sub2',it:1}],letter:['d',851,772]});
  label(986,935,-30,['Yb/Cs'],'#4B0082');
  label(1080,973,-33,['Rb/Cs'],'#0A1C8C');
  label(1302,835,-35,['H/Si'],'#0B4D0B');
  label(1008,1138,0,['EP test'],'#505050');
  label(987,1338,0,['MW sat'],'#D2691E');
  thLabels(1371,1066,1146,[{t:'m',k:'sup',it:1},{t:'q',k:'supsub',it:1}],-13);
})();
</script></body></html>
